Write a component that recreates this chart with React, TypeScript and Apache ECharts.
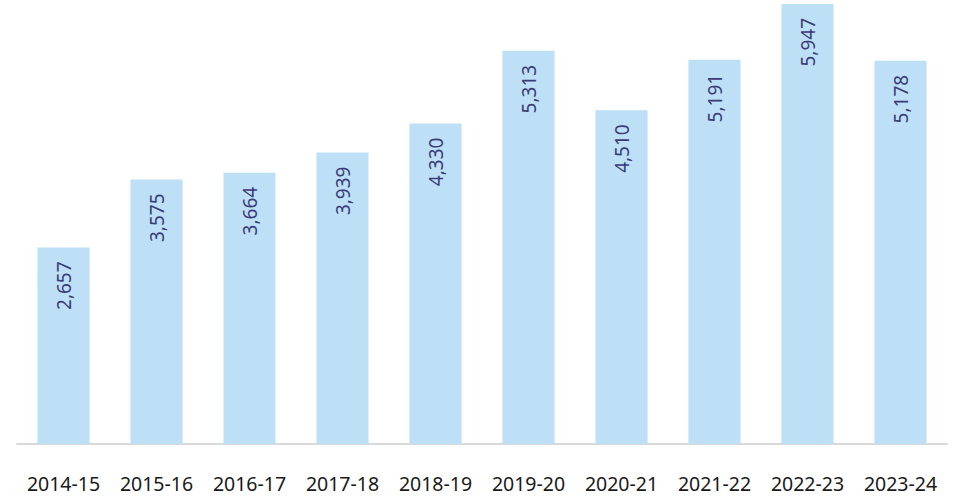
import React, { useEffect, useRef } from "react";
import * as echarts from "echarts";

const categories = ["2014-15", "2015-16", "2016-17", "2017-18", "2018-19", "2019-20", "2020-21", "2021-22", "2022-23", "2023-24"];
const values = [2657, 3575, 3664, 3939, 4330, 5313, 4510, 5191, 5947, 5178];

export default function App() {
  const ref = useRef<HTMLDivElement>(null);
  useEffect(() => {
    document.body.style.margin = "0";
    const chart = echarts.init(ref.current!, null, { renderer: "svg" });
    chart.setOption({
      animation: false,
      grid: { left: 17, right: 8, top: 0, bottom: 54, containLabel: false },
      xAxis: {
        type: "category",
        data: categories,
        axisLine: { lineStyle: { color: "#d9d9d9", width: 2 } },
        axisTick: { show: false },
        axisLabel: { color: "#1a1a1a", fontSize: 19.5, fontFamily: "Noto Sans", margin: 29, interval: 0 },
      },
      yAxis: {
        type: "value",
        min: 0,
        max: 6000,
        show: false,
        splitLine: { show: false },
      },
      series: [
        {
          type: "bar",
          data: values,
          barWidth: "56%",
          itemStyle: { color: "#BDE0F7" },
          label: {
            show: true,
            position: "insideTop",
            rotate: 90,
            align: "right",
            verticalAlign: "middle",
            distance: 14,
            color: "#3B3B78",
            fontSize: 19,
            fontFamily: "Noto Sans",
            formatter: (p: any) => Number(p.value).toLocaleString("en-US"),
          },
        },
      ],
    });
    return () => chart.dispose();
  }, []);
  return <div ref={ref} style={{ width: 955, height: 498 }} />;
}
